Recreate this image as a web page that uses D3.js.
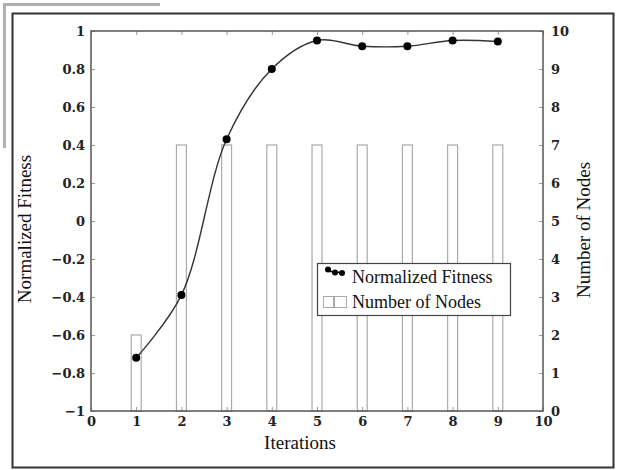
<!DOCTYPE html>
<html>
<head>
<meta charset="utf-8">
<script src="https://cdn.jsdelivr.net/npm/d3@7"></script>
<style>
  body { margin: 0; background: #fff; }
  .tick text { font-family: "DejaVu Serif", serif; font-weight: bold; font-size: 13px; fill: #222; }
  .axislabel { font-family: "Liberation Serif", serif; font-size: 19px; fill: #111; }
  .legendtext { font-family: "Liberation Serif", serif; font-size: 18px; fill: #111; }
</style>
</head>
<body>
<div id="chart"></div>
<script>
// Chart data
var iterations = [1, 2, 3, 4, 5, 6, 7, 8, 9];
var fitness = [-0.72, -0.39, 0.43, 0.80, 0.95, 0.92, 0.92, 0.95, 0.945];
var nodes = [2, 7, 7, 7, 7, 7, 7, 7, 7];
var xTicks = [0, 1, 2, 3, 4, 5, 6, 7, 8, 9, 10];
var leftTicks = [-1, -0.8, -0.6, -0.4, -0.2, 0, 0.2, 0.4, 0.6, 0.8, 1];
var rightTicks = [0, 1, 2, 3, 4, 5, 6, 7, 8, 9, 10];

var W = 618, H = 470;
var plot = {left: 91, right: 543, top: 31, bottom: 411};

var svg = d3.select("#chart")
  .append("svg")
  .attr("width", W)
  .attr("height", H);

// scan-ish grey corner lines and the outer frame
svg.append("path")
  .attr("d", "M4.5,148 V4.5 H160")
  .attr("fill", "none")
  .attr("stroke", "#b0b0b0")
  .attr("stroke-width", 3);

svg.append("rect")
  .attr("x", 12.5).attr("y", 13.5)
  .attr("width", 601).attr("height", 454)
  .attr("fill", "none")
  .attr("stroke", "#333")
  .attr("stroke-width", 2);

// Scales
var x = d3.scaleLinear().domain([0, 10]).range([plot.left, plot.right]);
var yL = d3.scaleLinear().domain([-1, 1]).range([plot.bottom, plot.top]);
var yR = d3.scaleLinear().domain([0, 10]).range([plot.bottom, plot.top]);

var fmt = d3.format("~g");

// Bars (number of nodes)
var barW = 0.22;
svg.selectAll(".bar")
  .data(iterations)
  .enter()
  .append("rect")
  .attr("class", "bar")
  .attr("x", function(d) { return x(d - barW / 2); })
  .attr("y", function(d, i) { return yR(nodes[i]); })
  .attr("width", x(barW) - x(0))
  .attr("height", function(d, i) { return yR(0) - yR(nodes[i]); })
  .attr("fill", "#fff")
  .attr("stroke", "#aaa")
  .attr("stroke-width", 1.2);

// Axes
function styleAxis(g) {
  g.select(".domain").remove();
  g.selectAll(".tick line").attr("stroke", "#999").attr("stroke-width", 1);
}

svg.append("g")
  .attr("transform", "translate(0," + plot.bottom + ")")
  .call(d3.axisBottom(x).tickValues(xTicks).tickFormat(fmt).tickSize(-4).tickPadding(5))
  .call(styleAxis)
  .selectAll("text").attr("dy", "0.8em");

svg.append("g")
  .attr("transform", "translate(0," + plot.top + ")")
  .call(d3.axisTop(x).tickValues(xTicks).tickFormat("").tickSize(-4))
  .call(styleAxis);

svg.append("g")
  .attr("transform", "translate(" + plot.left + ",0)")
  .call(d3.axisLeft(yL).tickValues(leftTicks).tickFormat(fmt).tickSize(-4).tickPadding(6))
  .call(styleAxis);

svg.append("g")
  .attr("transform", "translate(" + plot.right + ",0)")
  .call(d3.axisRight(yR).tickValues(rightTicks).tickFormat(fmt).tickSize(-4).tickPadding(8))
  .call(styleAxis);

// Plot frame
svg.append("rect")
  .attr("x", plot.left).attr("y", plot.top)
  .attr("width", plot.right - plot.left)
  .attr("height", plot.bottom - plot.top)
  .attr("fill", "none")
  .attr("stroke", "#555")
  .attr("stroke-width", 1.5);

// Fitness line
var line = d3.line()
  .x(function(d, i) { return x(iterations[i]); })
  .y(function(d) { return yL(d); })
  .curve(d3.curveCatmullRom.alpha(0.5));

svg.append("path")
  .datum(fitness)
  .attr("d", line)
  .attr("fill", "none")
  .attr("stroke", "#333")
  .attr("stroke-width", 1.4);

svg.selectAll(".dot")
  .data(fitness)
  .enter()
  .append("circle")
  .attr("cx", function(d, i) { return x(iterations[i]); })
  .attr("cy", function(d) { return yL(d); })
  .attr("r", 4)
  .attr("fill", "#000");

// Legend
var lg = svg.append("g");
lg.append("rect")
  .attr("x", 317.5).attr("y", 263.5)
  .attr("width", 193).attr("height", 52)
  .attr("fill", "#fff")
  .attr("stroke", "#444")
  .attr("stroke-width", 1.2);

lg.append("line")
  .attr("x1", 326).attr("y1", 271).attr("x2", 345).attr("y2", 273)
  .attr("stroke", "#000").attr("stroke-width", 1.5);
[[328, 269.5], [335, 272.5], [342, 273]].forEach(function(p) {
  lg.append("circle").attr("cx", p[0]).attr("cy", p[1]).attr("r", 3).attr("fill", "#000");
});
lg.append("text").attr("class", "legendtext").attr("x", 352).attr("y", 283).text("Normalized Fitness");

lg.append("rect").attr("x", 323.5).attr("y", 296.5).attr("width", 10).attr("height", 11)
  .attr("fill", "#fff").attr("stroke", "#aaa");
lg.append("rect").attr("x", 334.5).attr("y", 296.5).attr("width", 12).attr("height", 11)
  .attr("fill", "#fff").attr("stroke", "#aaa");
lg.append("text").attr("class", "legendtext").attr("x", 352).attr("y", 308).text("Number of Nodes");

// Axis labels
svg.append("text")
  .attr("class", "axislabel")
  .attr("x", (plot.left + plot.right) / 2 - 17)
  .attr("y", 449)
  .style("text-anchor", "middle")
  .text("Iterations");

svg.append("text")
  .attr("class", "axislabel")
  .attr("transform", "translate(31," + 229 + ") rotate(-90)")
  .style("text-anchor", "middle")
  .text("Normalized Fitness");

svg.append("text")
  .attr("class", "axislabel")
  .attr("transform", "translate(590," + 230 + ") rotate(-90)")
  .style("text-anchor", "middle")
  .text("Number of Nodes");
</script>
</body>
</html>
